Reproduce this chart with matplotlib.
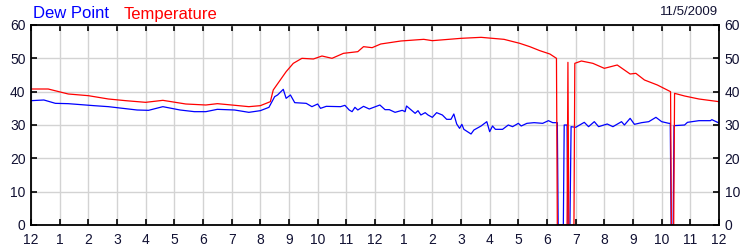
import matplotlib.pyplot as plt

# hours since midnight
temp_hours = [0.0, 0.6, 1.3, 2.0, 2.7, 3.3, 4.0, 4.6, 5.4, 6.1, 6.5, 7.0, 7.6, 8.0,
              8.35, 8.45, 8.9, 9.15, 9.45, 9.85, 10.15, 10.5, 10.9, 11.4, 11.6, 11.9,
              12.2, 12.9, 13.7, 14.0, 15.0, 15.7, 16.5, 17.05, 17.4, 17.75, 18.1,
              18.33, 18.36, 18.70, 18.73, 18.76, 18.94, 18.97, 19.2, 19.6, 20.0,
              20.45, 20.9, 21.1, 21.4, 21.85, 22.31, 22.34, 22.42, 22.45, 22.8,
              23.3, 24.0]
temp_values = [40.8, 40.8, 39.3, 38.8, 37.8, 37.3, 36.8, 37.4, 36.3, 36.0, 36.4, 36.0, 35.5, 35.8,
               37.0, 40.5, 46.0, 48.5, 50.0, 49.8, 50.7, 50.0, 51.5, 52.0, 53.5, 53.2,
               54.3, 55.2, 55.7, 55.3, 56.0, 56.3, 55.7, 54.5, 53.5, 52.3, 51.3,
               50.0, 0, 0, 48.8, 0, 0, 48.5, 49.2, 48.5, 47.0,
               48.0, 45.3, 45.5, 43.5, 42.0, 40.0, 0, 0, 39.5, 38.7,
               37.8, 37.0]

dew_hours = [0.0, 0.45, 0.85, 1.3, 1.6, 2.2, 2.7, 3.3, 3.7, 4.1, 4.6, 5.2, 5.7, 6.1, 6.5,
             7.1, 7.6, 8.0, 8.3, 8.5, 8.6, 8.8, 8.9, 9.05, 9.2, 9.6, 9.8, 10.0, 10.1,
             10.3, 10.8, 10.95, 11.1, 11.2, 11.3, 11.4, 11.6, 11.8, 12.17, 12.35, 12.5,
             12.7, 12.95, 13.05, 13.1, 13.4, 13.5, 13.6, 13.75, 13.85, 14.0, 14.15,
             14.35, 14.5, 14.65, 14.75, 14.85, 14.95, 15.03, 15.1, 15.35, 15.45, 15.7,
             15.9, 16.0, 16.1, 16.2, 16.45, 16.65, 16.8, 17.0, 17.1, 17.3, 17.55,
             17.85, 18.05, 18.2, 18.36, 18.39, 18.57, 18.60, 18.70, 18.73, 18.80,
             18.84, 19.0, 19.3, 19.45, 19.65, 19.8, 20.1, 20.3, 20.6, 20.7, 20.9,
             21.05, 21.3, 21.55, 21.8, 22.0, 22.25, 22.30, 22.33, 22.40, 22.43, 22.8,
             22.9, 23.3, 23.7, 23.75, 24.0]
dew_values = [37.3, 37.5, 36.5, 36.4, 36.2, 35.8, 35.5, 34.9, 34.5, 34.4, 35.5, 34.5, 34.0, 34.0, 34.7,
              34.5, 33.8, 34.3, 35.3, 38.5, 39.0, 40.7, 38.0, 39.0, 36.7, 36.5, 35.5, 36.3, 35.0,
              35.6, 35.5, 35.9, 34.5, 34.0, 35.3, 34.5, 35.6, 34.8, 36.0, 34.6, 34.6,
              33.8, 34.4, 34.0, 35.7, 33.5, 34.3, 33.0, 33.7, 33.0, 32.3, 33.7,
              33.0, 31.7, 31.7, 33.3, 30.3, 29.0, 30.2, 28.7, 27.3, 28.5, 29.7,
              31.0, 28.0, 29.7, 28.7, 28.7, 30.0, 29.5, 30.5, 29.7, 30.5, 30.7,
              30.5, 31.3, 30.7, 30.7, 0, 0, 30.0, 30.0, 0, 0,
              29.5, 29.3, 30.8, 29.5, 31.0, 29.5, 30.3, 29.5, 31.0, 30.0, 32.0,
              30.2, 30.7, 31.0, 32.3, 31.0, 30.5, 30.5, 0, 0, 29.8, 30.0,
              30.8, 31.3, 31.3, 31.6, 30.6]

hour_ticks = list(range(25))
hour_labels = ['12'] + [str(h) for h in range(1, 12)] + ['12'] + [str(h) for h in range(1, 12)] + ['12']
y_ticks = [0, 10, 20, 30, 40, 50, 60]

txt = '#111133'
plt.rcParams['font.family'] = ['Liberation Sans', 'DejaVu Sans']

fig = plt.figure(figsize=(7.5, 2.5), dpi=100)
ax = fig.add_axes([31 / 750, 25 / 250, 688 / 750, 200 / 250])

ax.plot(dew_hours, dew_values, color='#0000ff', lw=0.9)
ax.plot(temp_hours, temp_values, color='#ff0000', lw=0.9)

ax.set_xlim(0, 24)
ax.set_ylim(0, 60)
ax.set_xticks(hour_ticks)
ax.set_xticklabels(hour_labels)
ax.set_yticks(y_ticks)
ax.grid(True, color='#d3d3d3', lw=1)
ax.set_axisbelow(True)
ax.tick_params(direction='in', length=4, width=1.2, colors='black', labelcolor=txt,
               labelsize=10, top=True, right=True, labelright=True, pad=4)
ax.tick_params(axis='x', pad=6)
for s in ax.spines.values():
    s.set_linewidth(1.3)

fig.text(33 / 750, 1 - 14 / 250, 'Dew Point', color='#0000ff', fontsize=12, va='center', ha='left')
fig.text(124 / 750, 1 - 14 / 250, 'Temperature', color='#ff0000', fontsize=12, va='center', ha='left')
fig.text(718 / 750, 1 - 12 / 250, '11/5/2009', color=txt, fontsize=9.5, va='center', ha='right')

fig.savefig('out.png', dpi=100)
